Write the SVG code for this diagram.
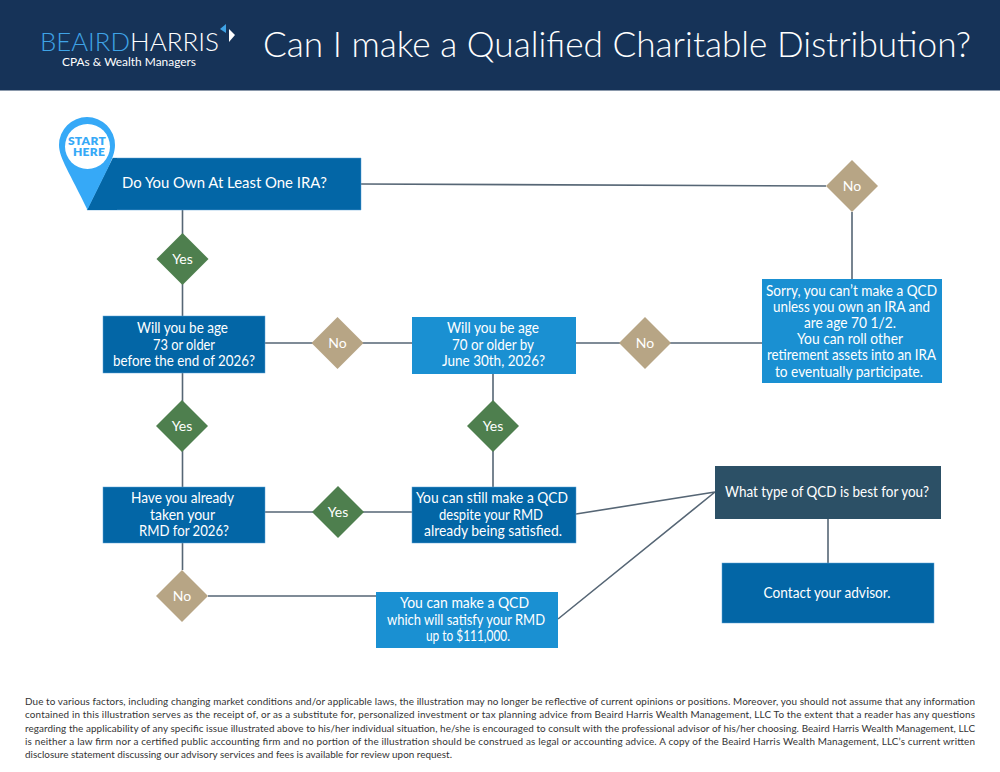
<svg xmlns="http://www.w3.org/2000/svg" width="1000" height="772" viewBox="0 0 1000 772">
<style>
text{font-family:"Lato","Open Sans","Liberation Sans",sans-serif}
.t{fill:#fff;font-size:15px;text-anchor:middle}
.d{fill:#fff;font-size:14px;text-anchor:middle}
.f{fill:#333;font-size:9.9px}
.c{stroke:#566675;stroke-width:1.6;fill:none}
.g{fill:#4e7f4e}.n{fill:#b7a585}
.b1{fill:#0366a6;stroke:#5da3d6;stroke-width:.5}.b2{fill:#1a90d2}
.s{fill:#36a9f7;font-size:12px;font-weight:800;text-anchor:middle;letter-spacing:.3px}
</style>
<rect width="1000" height="772" fill="#fff"/>
<g id="header">
<rect width="1000" height="90.500" fill="#163358"/>
<text x="40" y="51" font-size="24.500" fill="#3fa3e6" textLength="90" lengthAdjust="spacingAndGlyphs" font-weight="300">BEAIRD</text>
<text x="130" y="51" font-size="24.500" fill="#fff" textLength="89" lengthAdjust="spacingAndGlyphs" font-weight="300">HARRIS</text>
<polygon points="226,24 226,33 220,29" fill="#3fa3e6"/>
<polygon points="229,29 235,35 229,42" fill="#fff"/>
<text x="62" y="66" font-size="12" fill="#fff" textLength="134" lengthAdjust="spacingAndGlyphs">CPAs &amp; Wealth Managers</text>
<text x="263" y="57" font-size="35" fill="#fff" font-weight="300" textLength="708" lengthAdjust="spacingAndGlyphs">Can I make a Qualified Charitable Distribution?</text>
</g>
<g id="connectors">
<path class="c" d="M361 184L826 186M852 212V279M182.500 210V316M265 343H412M576 343H762M182.500 373V570M493 374V487M265 512H412M208 596H376M558 619L715 492M576 514L715 492M828 519V563"/>
</g>
<g id="start">
<polygon class="b1" points="87,210 113,158 361,158 361,210"/>
<path d="M59 145A28 28 0 0 1 115 145C115 158 105 173 87.500 210C70 173 59 158 59 145Z" fill="#36a9f7"/>
<circle cx="87.500" cy="146.500" r="22.500" fill="#fff"/>
<text x="87" y="145" class="s">START<tspan x="89" y="155.500">HERE</tspan></text>
<polygon points="87.500,210 113,158 117,158 117,210" fill="#0366a6"/>
<text class="t" x="224.500" y="188" textLength="205" lengthAdjust="spacingAndGlyphs">Do You Own At Least One IRA?</text>
</g>
<g id="d-yes-1"><polygon class="g" points="182.500,233 208.500,259 182.500,285 156.500,259"/><text class="d" x="182.500" y="264">Yes</text></g>
<g id="q-73"><rect class="b1" x="103" y="316" width="162" height="57"/>
<text class="t" x="182.500" y="333" textLength="91" lengthAdjust="spacingAndGlyphs">Will you be age</text><text class="t" x="184" y="349.500" textLength="62" lengthAdjust="spacingAndGlyphs">73 or older</text><text class="t" x="184" y="365.500" textLength="142" lengthAdjust="spacingAndGlyphs">before the end of 2026?</text></g>
<g id="d-no-1"><polygon class="n" points="337.500,317 363.500,343 337.500,369 311.500,343"/><text class="d" x="337.500" y="348">No</text></g>
<g id="q-70"><rect class="b2" x="412" y="317" width="164" height="57"/>
<text class="t" x="493" y="333" textLength="92" lengthAdjust="spacingAndGlyphs">Will you be age</text><text class="t" x="493" y="349.500" textLength="82" lengthAdjust="spacingAndGlyphs">70 or older by</text><text class="t" x="493.500" y="365.500" textLength="103" lengthAdjust="spacingAndGlyphs">June 30th, 2026?</text></g>
<g id="d-no-2"><polygon class="n" points="645,317 671,343 645,369 619,343"/><text class="d" x="645" y="348">No</text></g>
<g id="d-no-3"><polygon class="n" points="852,160 878,186 852,212 826,186"/><text class="d" x="852" y="191">No</text></g>
<g id="sorry"><rect class="b2" x="762" y="279" width="180" height="104"/>
<text class="t" x="851.500" y="296" textLength="171" lengthAdjust="spacingAndGlyphs">Sorry, you can’t make a QCD</text><text class="t" x="851.500" y="312" textLength="157" lengthAdjust="spacingAndGlyphs">unless you own an IRA and</text><text class="t" x="850" y="328" textLength="92" lengthAdjust="spacingAndGlyphs">are age 70 1/2.</text><text class="t" x="850" y="344" textLength="106" lengthAdjust="spacingAndGlyphs">You can roll other</text><text class="t" x="851.500" y="360" textLength="169" lengthAdjust="spacingAndGlyphs">retirement assets into an IRA</text><text class="t" x="849" y="376.500" textLength="148" lengthAdjust="spacingAndGlyphs">to eventually participate.</text></g>
<g id="d-yes-2"><polygon class="g" points="182,400 208,426 182,452 156,426"/><text class="d" x="182" y="431">Yes</text></g>
<g id="d-yes-3"><polygon class="g" points="493,400 519,426 493,452 467,426"/><text class="d" x="493" y="431">Yes</text></g>
<g id="q-rmd"><rect class="b1" x="103" y="487" width="162" height="56"/>
<text class="t" x="182.500" y="503" textLength="103" lengthAdjust="spacingAndGlyphs">Have you already</text><text class="t" x="182.500" y="519.500" textLength="65" lengthAdjust="spacingAndGlyphs">taken your</text><text class="t" x="184" y="535.500" textLength="90" lengthAdjust="spacingAndGlyphs">RMD for 2026?</text></g>
<g id="d-yes-4"><polygon class="g" points="338,486 364,512 338,538 312,512"/><text class="d" x="338" y="517">Yes</text></g>
<g id="still"><rect class="b1" x="412" y="487" width="164" height="56"/>
<text class="t" x="492" y="503" textLength="152" lengthAdjust="spacingAndGlyphs">You can still make a QCD</text><text class="t" x="491" y="519.500" textLength="104" lengthAdjust="spacingAndGlyphs">despite your RMD</text><text class="t" x="493" y="535.500" textLength="138" lengthAdjust="spacingAndGlyphs">already being satisfied.</text></g>
<g id="d-no-4"><polygon class="n" points="182,570 208,596 182,622 156,596"/><text class="d" x="182" y="601">No</text></g>
<g id="can"><rect class="b2" x="376" y="592" width="182" height="56"/>
<text class="t" x="464.500" y="608" textLength="129" lengthAdjust="spacingAndGlyphs">You can make a QCD</text><text class="t" x="466" y="624.500" textLength="158" lengthAdjust="spacingAndGlyphs">which will satisfy your RMD</text><text class="t" x="468" y="641" textLength="84" lengthAdjust="spacingAndGlyphs">up to $111,000.</text></g>
<g id="type"><rect x="715" y="466" width="226" height="53" fill="#2c5066"/><text class="t" x="827" y="497" textLength="204" lengthAdjust="spacingAndGlyphs">What type of QCD is best for you?</text></g>
<g id="contact"><rect class="b1" x="722" y="563" width="212" height="60"/><text class="t" x="827" y="598" textLength="127" lengthAdjust="spacingAndGlyphs">Contact your advisor.</text></g>
<g id="disclaimer">
<text class="f" x="25" y="704.500" textLength="950">Due to various factors, including changing market conditions and/or applicable laws, the illustration may no longer be reflective of current opinions or positions. Moreover, you should not assume that any information</text>
<text class="f" x="25" y="718" textLength="950">contained in this illustration serves as the receipt of, or as a substitute for, personalized investment or tax planning advice from Beaird Harris Wealth Management, LLC To the extent that a reader has any questions</text>
<text class="f" x="25" y="731.500" textLength="950">regarding the applicability of any specific issue illustrated above to his/her individual situation, he/she is encouraged to consult with the professional advisor of his/her choosing. Beaird Harris Wealth Management, LLC</text>
<text class="f" x="25" y="745" textLength="950">is neither a law firm nor a certified public accounting firm and no portion of the illustration should be construed as legal or accounting advice. A copy of the Beaird Harris Wealth Management, LLC’s current written</text>
<text class="f" x="25" y="758" textLength="427">disclosure statement discussing our advisory services and fees is available for review upon request.</text>
</g>
</svg>
